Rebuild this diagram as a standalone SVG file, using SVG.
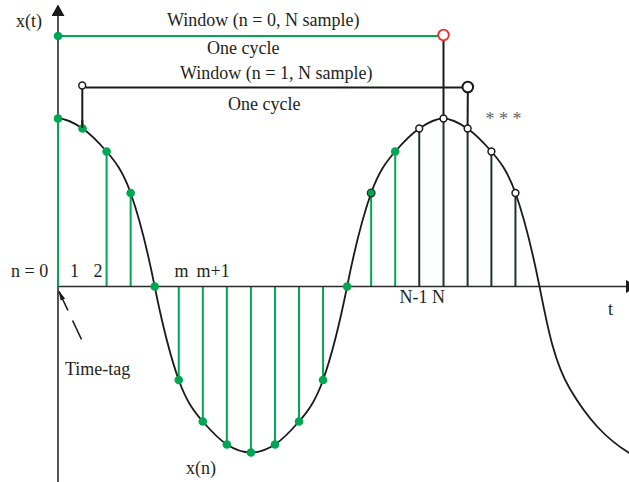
<svg xmlns="http://www.w3.org/2000/svg" width="629" height="482" viewBox="0 0 629 482">
<style>
text{font-family:"Liberation Serif","Times New Roman",serif;font-size:18px;fill:#231f20}
.ax{stroke:#2a2a2a;stroke-width:1.6;fill:none}
.gs{stroke:#00a651;stroke-width:2;fill:none}
.ds{stroke:#1d3527;stroke-width:2;fill:none}
.bk{stroke:#1a1a1a;stroke-width:2;fill:none}
.gd{fill:#00a651}
.od{fill:#fff;stroke:#1a1a1a;stroke-width:1.5}
.curve{stroke:#1a1a1a;stroke-width:1.8;fill:none}
</style>
<defs>
<marker id="axh" markerUnits="userSpaceOnUse" markerWidth="12" markerHeight="14" refX="0" refY="6.5" orient="auto"><path d="M0,0 L11.5,6.5 L0,13 z" fill="#1a1a1a"/></marker>
<marker id="tth" markerUnits="userSpaceOnUse" markerWidth="10" markerHeight="6" refX="10" refY="3" orient="auto"><path d="M0,0.6 L10,3 L0,5.4 z" fill="#1a1a1a"/></marker>
</defs>

<g id="stems">
<line class="gs" x1="106.6" y1="151.5" x2="106.6" y2="286.5"/>
<line class="gs" x1="130.65" y1="193" x2="130.65" y2="286.5"/>
<line class="gs" x1="178.75" y1="286.5" x2="178.75" y2="380"/>
<line class="gs" x1="202.8" y1="286.5" x2="202.8" y2="421.5"/>
<line class="gs" x1="226.85" y1="286.5" x2="226.85" y2="444.5"/>
<line class="gs" x1="250.9" y1="286.5" x2="250.9" y2="452.5"/>
<line class="gs" x1="274.95" y1="286.5" x2="274.95" y2="444.5"/>
<line class="gs" x1="299" y1="286.5" x2="299" y2="421.5"/>
<line class="gs" x1="323.05" y1="286.5" x2="323.05" y2="380"/>
<line class="gs" x1="371.15" y1="193" x2="371.15" y2="286.5"/>
<line class="gs" x1="395.2" y1="151.5" x2="395.2" y2="286.5"/>
<line class="ds" x1="419.25" y1="128.5" x2="419.25" y2="286.5"/>
<line class="ds" x1="443.5" y1="118.5" x2="443.5" y2="286.5"/>
<line class="ds" x1="467.6" y1="128.5" x2="467.6" y2="286.5"/>
<line class="ds" x1="491.4" y1="151.5" x2="491.4" y2="286.5"/>
<line class="ds" x1="515.45" y1="193" x2="515.45" y2="286.5"/>
</g>

<g id="axes">
<line class="ax" x1="58" y1="482" x2="58" y2="118.5"/>
<line class="ax" x1="58" y1="118.5" x2="58" y2="16" marker-end="url(#axh)"/>
<line class="ax" x1="58" y1="286.5" x2="626" y2="286.5" marker-end="url(#axh)"/>
<line class="gs" x1="58" y1="118.5" x2="58" y2="286.5"/>
</g>

<path id="wave" class="curve" d="M58,118.5 C66.02,118.5 74.53,123 82.55,128.5 C90.57,134 98.58,142.3 106.6,151.5 C114.62,160.7 122.63,170.5 130.65,193 C138.67,215.5 146.68,246.5 154.7,286.5 C162.72,326.5 170.73,357.5 178.75,380 C186.77,402.5 194.78,412.3 202.8,421.5 C210.82,430.7 218.83,439.33 226.85,444.5 C234.87,449.67 242.88,452.5 250.9,452.5 C258.92,452.5 266.93,449.67 274.95,444.5 C282.97,439.33 290.98,430.7 299,421.5 C307.02,412.3 315.03,402.5 323.05,380 C331.07,357.5 339.08,326.5 347.1,286.5 C355.12,246.5 363.13,215.5 371.15,193 C379.17,170.5 387.18,160.7 395.2,151.5 C403.22,142.3 411.23,134 419.25,128.5 C427.27,123 435.28,118.5 443.3,118.5 C451.32,118.5 459.33,123 467.35,128.5 C475.37,134 483.38,142.3 491.4,151.5 C499.42,160.7 507.43,170.5 515.45,193 C523.47,215.5 531.48,246.5 539.5,286.5 C547.5,326.5 554,362 570,389 C586,416 605,440 636,457"/>

<g id="window0">
<line x1="58" y1="36" x2="438.2" y2="36" stroke="#00a651" stroke-width="2.2"/>
<line class="bk" x1="443.5" y1="40.5" x2="443.5" y2="115.5"/>
<circle cx="443.5" cy="35" r="5.3" fill="#fff" stroke="#ee2d2d" stroke-width="1.8"/>
<circle class="gd" cx="58" cy="36" r="4.3"/>
</g>

<g id="window1">
<line class="bk" x1="85.5" y1="87.5" x2="462.5" y2="87.5"/>
<line class="bk" x1="82.3" y1="89" x2="82.3" y2="126"/>
<line class="bk" x1="467.8" y1="92.5" x2="467.6" y2="125"/>
<circle class="od" cx="82.2" cy="85.5" r="3.4"/>
<circle cx="467.8" cy="87" r="5.3" fill="#fff" stroke="#1a1a1a" stroke-width="2"/>
</g>

<g id="samples">
<circle class="gd" cx="58" cy="118.5" r="4.3"/>
<circle class="gd" cx="82.55" cy="128.5" r="4.3"/>
<line class="bk" x1="82.3" y1="120" x2="82.3" y2="128"/>
<circle class="gd" cx="106.6" cy="151.5" r="4.3"/>
<circle class="gd" cx="130.65" cy="193" r="4.3"/>
<circle class="gd" cx="154.7" cy="286.5" r="4.3"/>
<circle class="gd" cx="178.75" cy="380" r="4.3"/>
<circle class="gd" cx="202.8" cy="421.5" r="4.3"/>
<circle class="gd" cx="226.85" cy="444.5" r="4.3"/>
<circle class="gd" cx="250.9" cy="452.5" r="4.3"/>
<circle class="gd" cx="274.95" cy="444.5" r="4.3"/>
<circle class="gd" cx="299" cy="421.5" r="4.3"/>
<circle class="gd" cx="323.05" cy="380" r="4.3"/>
<circle class="gd" cx="347.1" cy="286.5" r="4.3"/>
<circle cx="371.15" cy="193" r="3.8" fill="#00a651" stroke="#1d3527" stroke-width="1.3"/>
<circle class="gd" cx="395.2" cy="151.5" r="4.3"/>
<circle class="od" cx="419.25" cy="128.5" r="3.4"/>
<circle class="od" cx="443.5" cy="118.5" r="3.4"/>
<circle class="od" cx="467.6" cy="128.5" r="3.4"/>
<circle class="od" cx="491.4" cy="151.5" r="3.4"/>
<circle class="od" cx="515.45" cy="193" r="3.4"/>
</g>

<g id="timetag">
<line x1="81.5" y1="339.5" x2="58.6" y2="290.6" stroke="#1a1a1a" stroke-width="1.6" stroke-dasharray="21 11" marker-end="url(#tth)"/>
<text x="65" y="375">Time-tag</text>
</g>

<g id="labels">
<text x="16" y="27">x(t)</text>
<text x="167" y="26">Window (n = 0, N sample)</text>
<text x="207" y="54">One cycle</text>
<text x="180" y="79">Window (n = 1, N sample)</text>
<text x="228" y="110">One cycle</text>
<text x="485.5" y="125" style="fill:#666">* * *</text>
<text x="11" y="277">n = 0</text>
<text x="70" y="277">1</text>
<text x="93.5" y="277">2</text>
<text x="174.5" y="277">m</text>
<text x="196.5" y="277">m+1</text>
<text x="399.5" y="303">N-1 N</text>
<text x="608" y="315">t</text>
<text x="186" y="474">x(n)</text>
</g>
</svg>
